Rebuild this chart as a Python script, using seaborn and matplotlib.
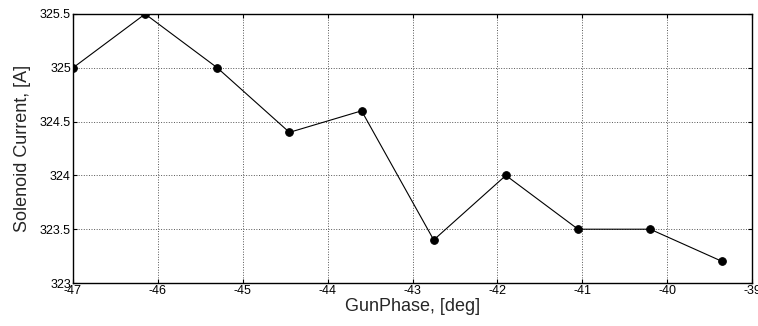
import matplotlib
matplotlib.use("Agg")
import matplotlib.pyplot as plt
import seaborn as sns
import pandas as pd

gun_phase = [-47.0, -46.15, -45.3, -44.45, -43.6, -42.75, -41.9, -41.05, -40.2, -39.35]
solenoid_current = [325.0, 325.5, 325.0, 324.4, 324.6, 323.4, 324.0, 323.5, 323.5, 323.2]
x_ticks = [-47, -46, -45, -44, -43, -42, -41, -40, -39]
y_ticks = [323, 323.5, 324, 324.5, 325, 325.5]
y_tick_labels = ["323", "323.5", "324", "324.5", "325", "325.5"]

sns.set_style("white")
plt.rcParams["font.family"] = ["Liberation Sans", "DejaVu Sans"]

df = pd.DataFrame({"phase": gun_phase, "current": solenoid_current})

fig = plt.figure(figsize=(7.58, 3.26), dpi=100)
ax = fig.add_axes([73 / 758, 1 - 283 / 326, (752 - 73) / 758, (283 - 14) / 326])

sns.lineplot(data=df, x="phase", y="current", ax=ax, color="black", linewidth=0.8,
             marker="o", markersize=5.5, markeredgecolor="black", markerfacecolor="black")

ax.set_xlim(-47, -39)
ax.set_ylim(323, 325.5)
ax.set_xticks(x_ticks)
ax.set_xticklabels([str(t) for t in x_ticks])
ax.set_yticks(y_ticks)
ax.set_yticklabels(y_tick_labels)

ax.grid(True, linestyle=":", color="#555555", linewidth=0.7)
ax.tick_params(direction="in", length=3, width=0.8, labelsize=9, colors="black",
               top=True, right=True, bottom=True, left=True, pad=1.5)
for s in ax.spines.values():
    s.set_visible(True)
    s.set_color("black")
    s.set_linewidth(1.0)

ax.set_xlabel("GunPhase, [deg]", fontsize=13, labelpad=1)
ax.set_ylabel("Solenoid Current, [A]", fontsize=13, labelpad=6)

fig.savefig("out.png", dpi=100)
